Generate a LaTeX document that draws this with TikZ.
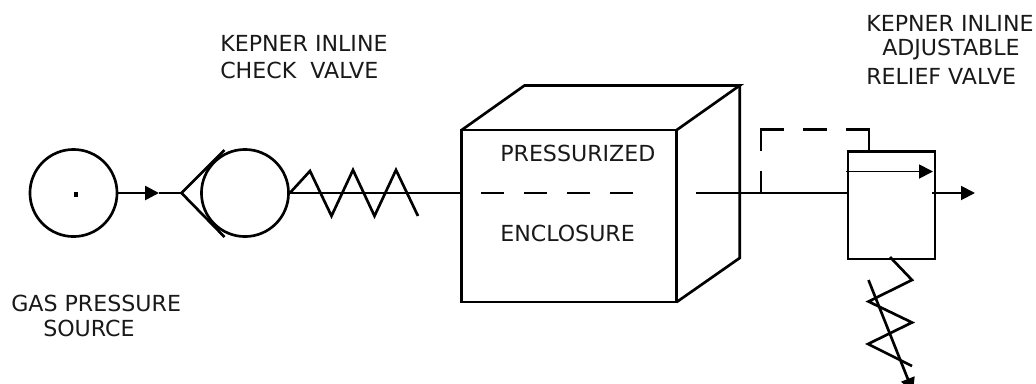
\documentclass[tikz,border=0pt]{standalone}
\usepackage{fontspec}
\setmainfont{DejaVu Sans}
\usetikzlibrary{arrows.meta}
\tikzset{
  x=0.75pt,y=-0.75pt,
  ln/.style={draw=black,line width=2pt,line cap=butt,line join=miter},
  thin ln/.style={draw=black,line width=1.4pt},
  tip/.style={-{Triangle[length=10.5pt,width=10.5pt]}},
  lbl/.style={inner sep=0pt,font=\fontsize{16.6pt}{19pt}\selectfont,text=black!90},
}
\begin{document}
\begin{tikzpicture}
\useasboundingbox (0,0) rectangle (1036,383);
% source
\coordinate (c1) at (73.5,193);
\coordinate (c2) at (245,193);
\node[circle,ln,minimum size=65.3pt,inner sep=0pt] (src) at (c1) {};
\node[fill=black,minimum size=3.6pt,inner sep=0pt] (dot) at (76,194.5) {};
\node[circle,ln,minimum size=65.3pt,inner sep=0pt] (ball) at (c2) {};
\coordinate (vtip) at (181.5,193);
\coordinate (va) at (224.5,150);
\coordinate (vb) at (224.5,237);
\coordinate (p1) at (159,193);
\draw[ln,tip] (src.east) -- (p1);
\draw[ln] (p1) -- (vtip);
\draw[ln] (va) -- (vtip) -- (vb);
% box
\coordinate (fa) at (461.7,130);
\coordinate (fb) at (676.7,130);
\coordinate (fc) at (676.7,302);
\coordinate (fd) at (461.7,302);
\coordinate (ba) at (524.5,85.5);
\coordinate (bb) at (739.7,85.5);
\coordinate (bc) at (739.7,258);
\draw[ln] (fa) -- (fb) -- (fc) -- (fd) -- cycle;
\draw[ln] (fa) -- (ba) -- (bb) -- (fb);
\draw[ln] (bb) -- (bc) -- (fc);
\coordinate (fl) at (461.7,193);
\draw[ln] (ball.east) -- (fl);
% spring
\coordinate (s0) at (310,171);
\draw[ln] (ball.east) -- (s0) -- (331.5,216) -- (353,170) -- (374.5,216) -- (396,170) -- (418,216);
% inner dashes
\coordinate (d0) at (481,193);
\coordinate (d1) at (633,193);
\draw[thin ln,dash pattern=on 17.25pt off 15pt] (d0) -- (d1);
% relief
\node[draw=black,line width=2.1pt,minimum width=65.3pt,minimum height=80.5pt,inner sep=0pt] (rv) at (891.5,205.3) {};
\coordinate (l0) at (696,193);
\draw[ln] (l0) -- (rv.west |- l0);
\coordinate (j) at (761,193);
\coordinate (j1) at (761,129.5);
\coordinate (j2) at (869,129.5);
\draw[ln] (j) -- (761,170.5);
\draw[ln] (761,151) -- (j1) -- (784,129.5);
\draw[ln] (803,129.5) -- (827,129.5);
\draw[ln] (846,129.5) -- (j2) -- (rv.north -| j2);
\coordinate (ia) at (846,171.5);
\coordinate (ib) at (933,171.5);
\draw[thin ln,tip] (ia) -- (ib);
\coordinate (oa) at (932,193);
\coordinate (ob) at (975,193);
\draw[thin ln,tip] (oa) -- (ob);
\coordinate (r0) at (890,257);
\draw[ln] (r0) -- (912,280) -- (868.5,301.5) -- (912,322.5) -- (868,344) -- (912,366);
\coordinate (ra) at (868.5,280);
\coordinate (rb) at (913,392);
\draw[ln,tip] (ra) -- (rb);
% labels
\node[lbl,anchor=west] (t1) at (220,43) {KEPNER INLINE};
\node[lbl,anchor=west] (t2) at (220,70) {CHECK\ \ VALVE};
\node[lbl,anchor=west] (t3) at (500,153) {PRESSURIZED};
\node[lbl,anchor=west] (t4) at (500,233) {ENCLOSURE};
\node[lbl,anchor=west] (t5) at (866,23) {KEPNER INLINE};
\node[lbl,anchor=west] (t6) at (882,49) {ADJUSTABLE};
\node[lbl,anchor=west] (t7) at (866,76) {RELIEF VALVE};
\node[lbl,anchor=west] (t8) at (11,303) {GAS PRESSURE};
\node[lbl,anchor=west] (t9) at (43,328) {SOURCE};
\end{tikzpicture}
\end{document}
